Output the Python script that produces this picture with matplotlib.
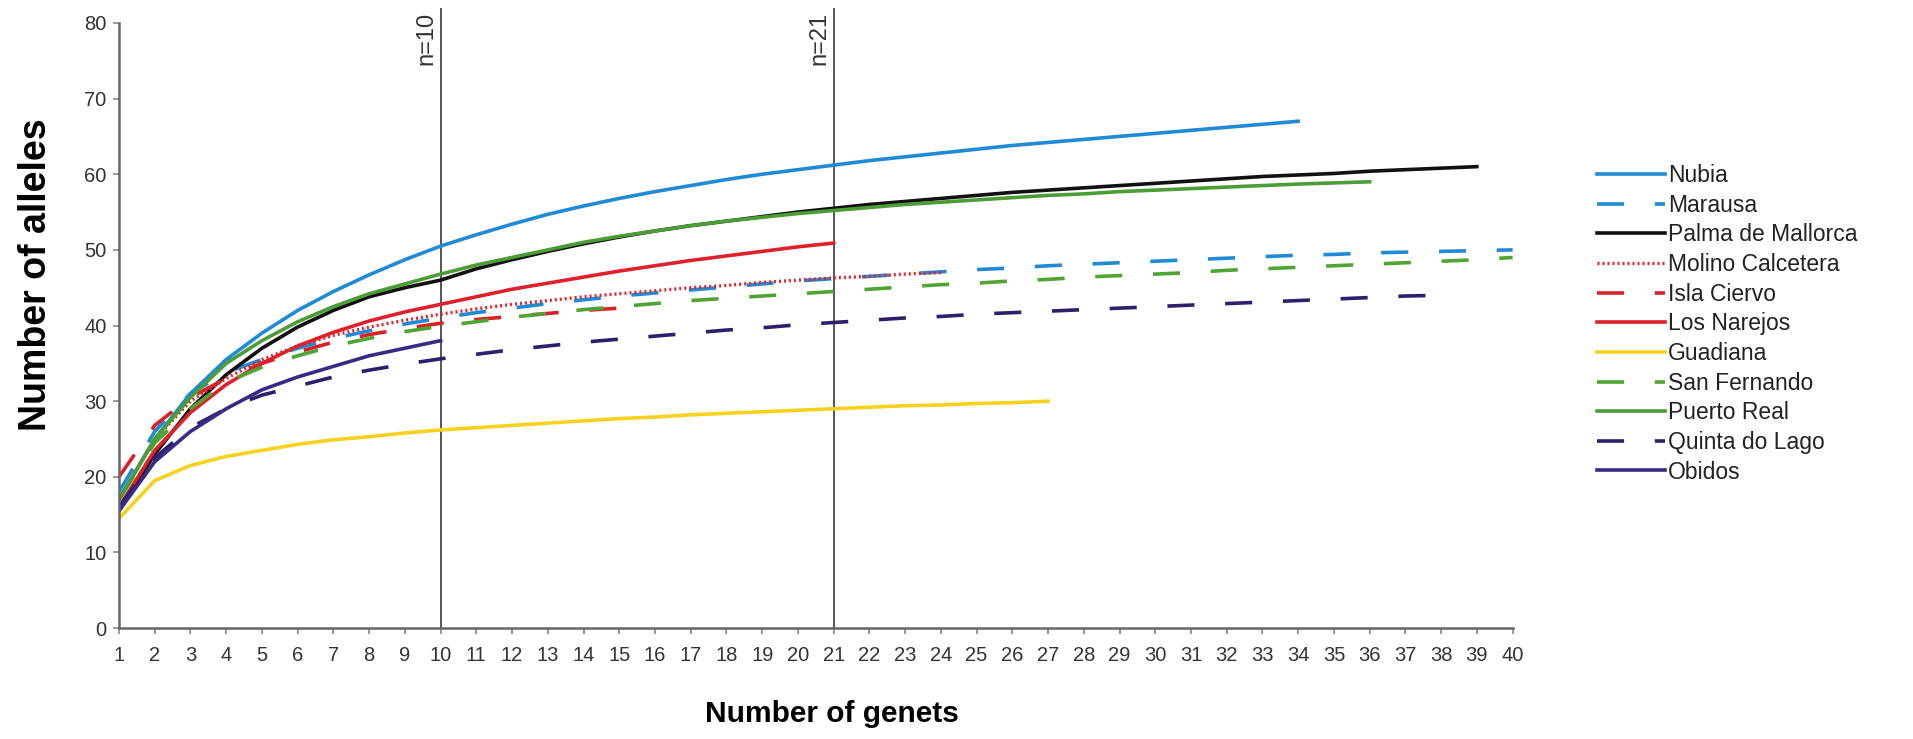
import matplotlib
matplotlib.use("Agg")
import matplotlib.pyplot as plt
from matplotlib import font_manager

# ---------------- data ----------------
nubia = [17, 25, 31, 35.5, 39, 42, 44.5, 46.7, 48.7, 50.5, 52, 53.4, 54.7, 55.8, 56.8, 57.7,
         58.5, 59.3, 60, 60.6, 61.2, 61.8, 62.3, 62.8, 63.3, 63.8, 64.2, 64.6, 65, 65.4, 65.8,
         66.2, 66.6, 67]
marausa = [18, 26, 31, 33.8, 35.5, 37, 38.3, 39.3, 40.2, 41, 41.7, 42.3, 42.9, 43.4, 43.9, 44.3,
           44.7, 45.1, 45.5, 45.9, 46.2, 46.5, 46.8, 47.1, 47.4, 47.6, 47.9, 48.1, 48.3, 48.5,
           48.7, 48.9, 49.1, 49.3, 49.4, 49.6, 49.7, 49.8, 49.9, 50]
palma = [15.5, 23, 29, 33.5, 37, 39.8, 42, 43.8, 45, 46, 47.5, 48.7, 49.8, 50.8, 51.7, 52.5,
         53.2, 53.8, 54.4, 55, 55.5, 56, 56.4, 56.8, 57.2, 57.6, 57.9, 58.2, 58.5, 58.8, 59.1,
         59.4, 59.7, 59.9, 60.1, 60.4, 60.6, 60.8, 61]
molino = [17, 25, 30, 33, 35.5, 37.3, 38.7, 39.8, 40.7, 41.5, 42.2, 42.8, 43.3, 43.8, 44.2, 44.6,
          45, 45.3, 45.7, 46, 46.3, 46.5, 46.8, 47]
isla = [20, 26.8, 30.5, 33, 35, 36.5, 37.8, 38.8, 39.6, 40.3, 40.8, 41.2, 41.6, 42, 42.3]
narejos = [16, 23.5, 28.5, 32.2, 35, 37.3, 39.1, 40.6, 41.8, 42.8, 43.8, 44.8, 45.6, 46.4, 47.2,
           47.9, 48.6, 49.2, 49.8, 50.4, 50.9]
guadiana = [14.5, 19.5, 21.5, 22.7, 23.5, 24.3, 24.9, 25.3, 25.8, 26.2, 26.5, 26.8, 27.1, 27.4,
            27.7, 27.9, 28.2, 28.4, 28.6, 28.8, 29, 29.2, 29.4, 29.5, 29.7, 29.8, 30]
sanfernando = [17, 24.5, 29, 32.5, 34.5, 36, 37.3, 38.3, 39.2, 39.9, 40.5, 41.1, 41.6, 42.1, 42.5,
               42.9, 43.3, 43.6, 43.9, 44.2, 44.5, 44.8, 45.1, 45.4, 45.6, 45.9, 46.1, 46.4,
               46.6, 46.8, 47.0, 47.3, 47.5, 47.7, 47.9, 48.1, 48.3, 48.5, 48.7, 49]
puertoreal = [17, 25, 30.5, 35, 38, 40.5, 42.5, 44.2, 45.5, 46.8, 48, 49, 50, 51, 51.8, 52.5,
              53.2, 53.8, 54.3, 54.8, 55.2, 55.6, 56, 56.3, 56.6, 56.9, 57.2, 57.4, 57.7, 57.9,
              58.1, 58.3, 58.5, 58.7, 58.85, 59]
quinta = [16, 22.5, 26.5, 29, 30.8, 32, 33.2, 34.1, 34.9, 35.6, 36.2, 36.8, 37.3, 37.8, 38.2,
          38.6, 39, 39.4, 39.7, 40.1, 40.4, 40.7, 41, 41.2, 41.5, 41.7, 41.9, 42.1, 42.3, 42.5,
          42.7, 42.9, 43.1, 43.3, 43.5, 43.7, 43.9, 44]
obidos = [15.5, 22, 26, 29, 31.5, 33.2, 34.6, 36, 37, 38]

labels = ["Nubia", "Marausa", "Palma de Mallorca", "Molino Calcetera", "Isla Ciervo",
          "Los Narejos", "Guadiana", "San Fernando", "Puerto Real", "Quinta do Lago", "Obidos"]
series = [nubia, marausa, palma, molino, isla, narejos, guadiana, sanfernando, puertoreal,
          quinta, obidos]
colors = ["#1f8ad6", "#1f8ad6", "#111111", "#e3242b", "#d92128", "#e0202a", "#f6d21e",
          "#4ea531", "#4a9e35", "#2e1e6b", "#3a2a86"]
styles = ["solid", "dashed", "solid", "dotted", "dashed", "solid", "solid", "dashed", "solid",
          "dashed", "solid"]
xticks = list(range(1, 41))
yticks = list(range(0, 81, 10))
vlines = [10, 21]
vlabels = ["n=10", "n=21"]

# ---------------- fonts ----------------
avail = {f.name for f in font_manager.fontManager.ttflist}
tick_font = "Liberation Sans Narrow" if "Liberation Sans Narrow" in avail else "Liberation Sans"
plt.rcParams["font.family"] = ["Liberation Sans", "DejaVu Sans"]

fig = plt.figure(figsize=(19.13, 7.39), dpi=100)
ax = fig.add_axes([0.0622, 0.150, 0.7285, 0.819])

for lab, ys, c, st in zip(labels, series, colors, styles):
    xs = list(range(1, len(ys) + 1))
    if st == "dashed":
        ax.plot(xs, ys, color=c, lw=2.6, linestyle=(0, (7.5, 8.5)), label=lab)
    elif st == "dotted":
        ax.plot(xs, ys, color=c, lw=2.4, linestyle=(0, (0.6, 0.9)), label=lab)
    else:
        ax.plot(xs, ys, color=c, lw=2.6, label=lab)

for xv, vl in zip(vlines, vlabels):
    ax.plot([xv, xv], [0, 81.8], color="#555555", lw=1.4, clip_on=False, zorder=1)
    ax.annotate(vl, xy=(xv, 81.4), xytext=(-2, 0), textcoords="offset points",
                rotation=90, ha="right", va="top", fontsize=17, color="#333333",
                family=tick_font, annotation_clip=False)

ax.set_xlim(1, 40)
ax.set_ylim(0, 80)
ax.set_xticks(xticks)
ax.set_yticks(yticks)
for s in ["top", "right"]:
    ax.spines[s].set_visible(False)
for s in ["left", "bottom"]:
    ax.spines[s].set_color("#666666")
    ax.spines[s].set_linewidth(1.8)
ax.tick_params(axis="both", direction="out", length=4, width=1.2, color="#888888",
               labelsize=14.5, labelcolor="#333333")
ax.tick_params(axis="x", pad=9)
ax.tick_params(axis="y", pad=5)
for t in ax.get_xticklabels() + ax.get_yticklabels():
    t.set_family(tick_font)

fig.text(0.435, 0.034, "Number of genets", ha="center", va="center", fontsize=21.5,
         fontweight="bold")
fig.text(0.019, 0.628, "Number of alleles", ha="center", va="center", fontsize=27,
         fontweight="bold", rotation=90)

leg = fig.legend(loc="upper left", bbox_to_anchor=(0.835, 0.778), frameon=False,
                 fontsize=16.5, handlelength=2.97, handletextpad=0.1, labelspacing=0.29,
                 borderpad=0, borderaxespad=0)
for t in leg.get_texts():
    t.set_color("#222222")

fig.savefig("out.png", dpi=100)
